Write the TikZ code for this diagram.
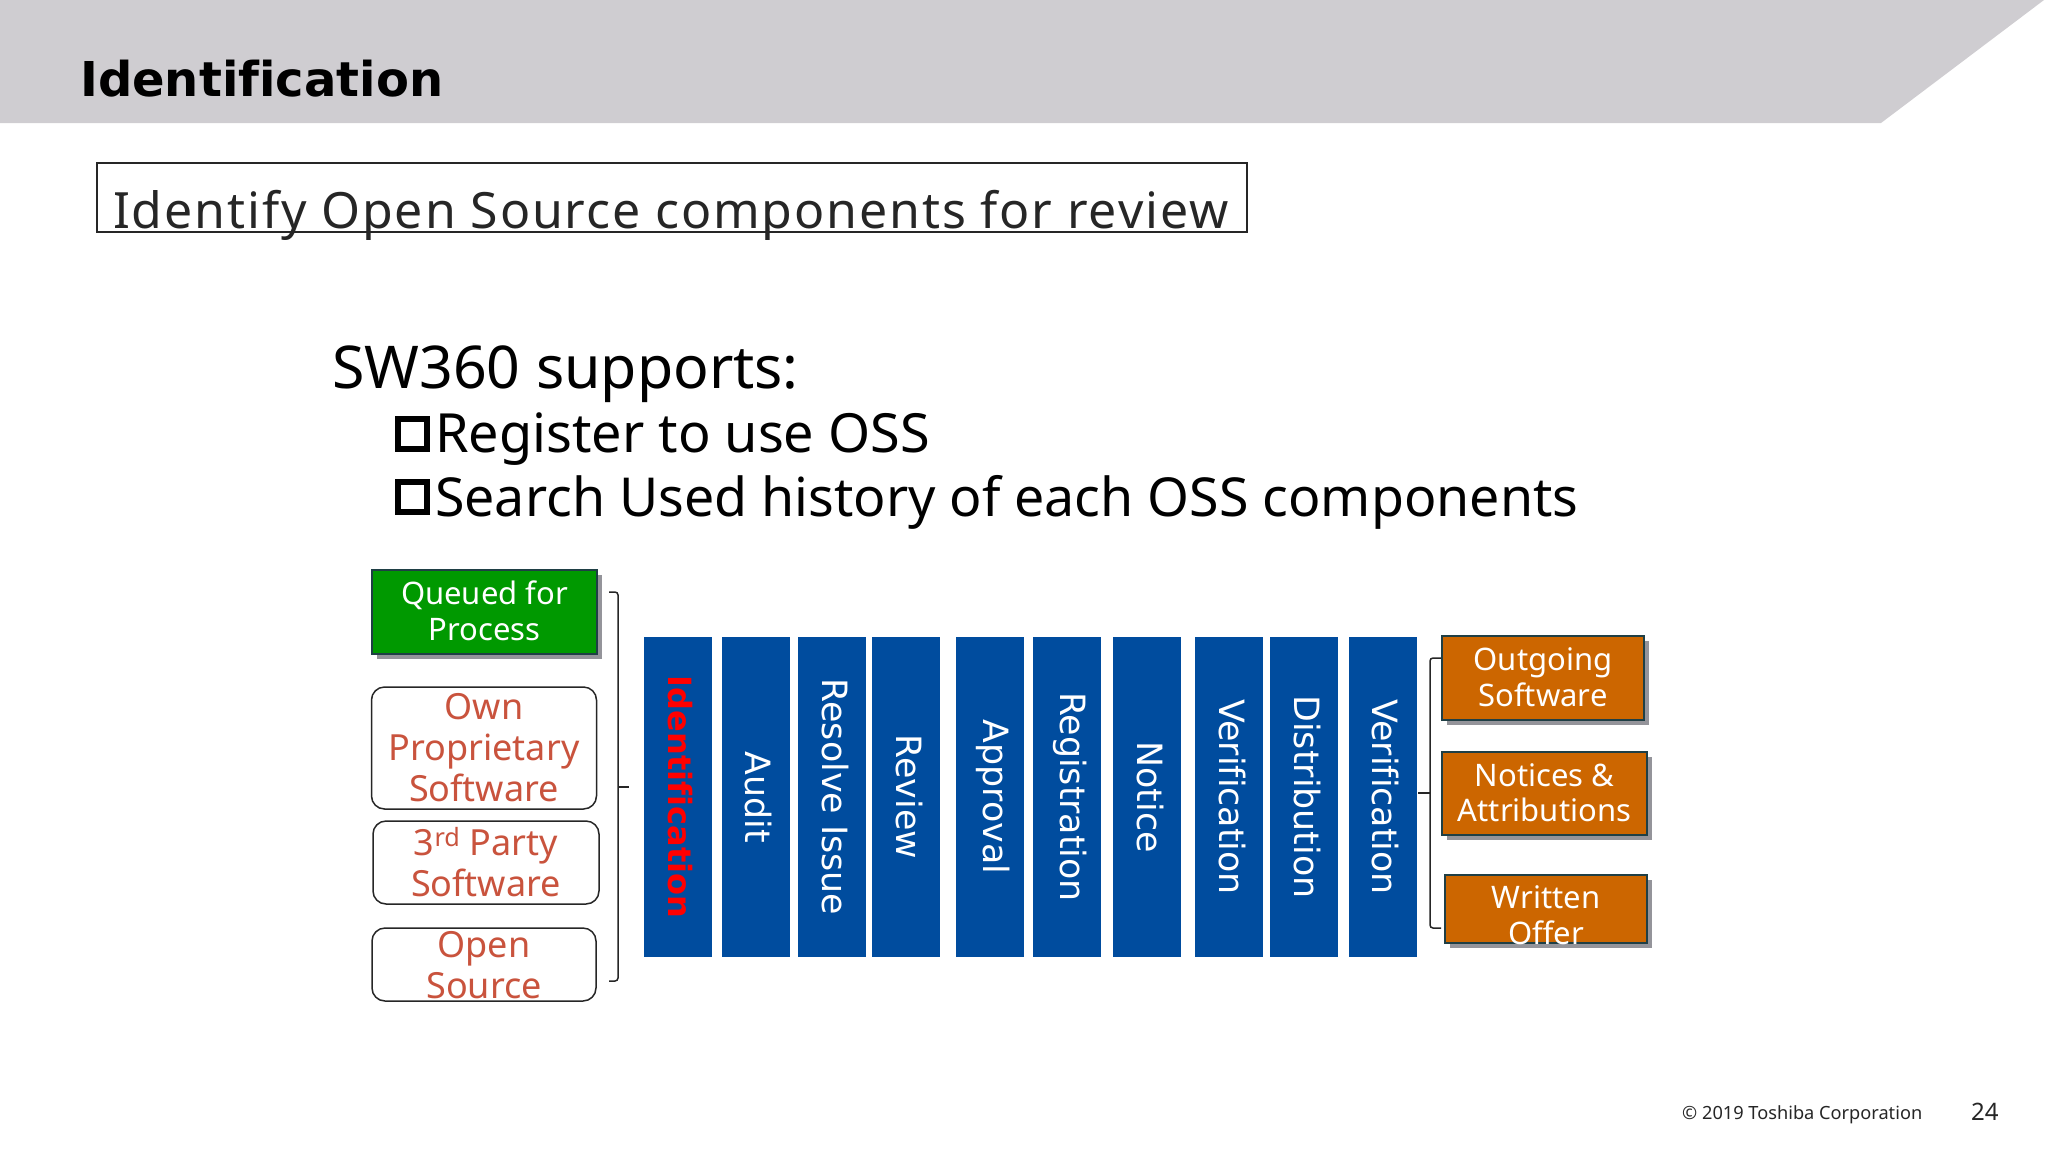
\documentclass[tikz,border=0pt]{standalone}
\usepackage{fontspec}
\setmainfont{Noto Sans}
\newfontfamily\widefont[Ligatures=NoCommon]{DejaVu Sans}
\usetikzlibrary{shadows}
\definecolor{bandgray}{HTML}{CFCDD1}
\definecolor{barblue}{HTML}{004C9E}
\definecolor{boxgreen}{HTML}{009900}
\definecolor{boxorange}{HTML}{CC6600}
\definecolor{softred}{HTML}{C9533D}
\definecolor{shadegray}{HTML}{94949A}
\definecolor{edgeteal}{HTML}{1F3F45}
\tikzset{
    barbox/.style={fill=barblue, minimum width=68pt, minimum height=320pt, inner sep=0pt},
    barlabel/.style={rotate=-90, text=white, font=\widefont\fontsize{34.8}{38}\selectfont, inner sep=0pt, yshift=3pt},
    softbox/.style={draw=black!85, line width=1.5pt, rounded corners=13pt, fill=white, inner sep=0pt},
    softlabel/.style={text=softred, align=center, font=\fontsize{36}{41}\selectfont, inner sep=0pt},
    solidbox/.style={draw=edgeteal, line width=1.5pt, inner sep=0pt,
        drop shadow={shadow xshift=5pt, shadow yshift=-5pt, fill=shadegray, opacity=1}},
    solidlabel/.style={text=white, align=center, font=\fontsize{31}{35.5}\selectfont, inner sep=0pt},
    checkbox/.style={draw=black, line width=6pt, minimum width=29pt, minimum height=30pt, inner sep=0pt},
    brace/.style={draw=black!85, line width=1.5pt, rounded corners=3pt}
}
\begin{document}
\begin{tikzpicture}[x=1pt, y=-1pt]
    \useasboundingbox (0,0) rectangle (2048,1152);

    % Header
    \fill[bandgray] (0,0) -- (2044,0) -- (1881,123) -- (0,123) -- cycle;
    \node[anchor=base west, inner sep=0pt, font=\widefont\fontsize{48}{60}\selectfont\bfseries] (title) at (80,96) {Identification};
    \node[draw=black!85, line width=1.5pt, minimum width=1150pt, minimum height=69pt, inner sep=0pt] (goal) at (672,197.5) {};
    \node[anchor=base west, inner sep=0pt, text=black!85, font=\fontsize{50}{60}\selectfont\addfontfeature{LetterSpace=3.7}] (goaltext) at (113,228) {Identify Open Source components for review};

    % Supports list
    \node[anchor=base west, inner sep=0pt, font=\fontsize{59}{66}\selectfont] (supports) at (332,388) {SW360 supports:};
    \node[checkbox] (checka) at (412.5,433.5) {};
    \node[anchor=base west, inner sep=0pt, font=\fontsize{54}{60}\selectfont] (itema) at (435,452) {Register to use OSS};
    \node[checkbox] (checkb) at (412.5,497) {};
    \node[anchor=base west, inner sep=0pt, font=\fontsize{53.7}{60}\selectfont] (itemb) at (435,516) {Search Used history of each OSS components};

    % Inputs on the left
    \node[solidbox, fill=boxgreen, minimum width=225pt, minimum height=84pt] (queued) at (484.5,612) {};
    \node[solidlabel] (queuedlbl) at (484.5,611) {Queued for\\Process};
    \node[softbox, minimum width=225pt, minimum height=122pt] (own) at (484,748) {};
    \node[softlabel] (ownlbl) at (own) {Own\\Proprietary\\Software};
    \node[softbox, minimum width=226pt, minimum height=83pt] (third) at (486,862.5) {};
    \node[softlabel] (thirdlbl) at (third) {3\textsuperscript{rd} Party\\Software};
    \node[softbox, minimum width=224pt, minimum height=73pt] (open) at (484,964.5) {};
    \node[softlabel] (openlbl) at (484,965) {Open\\Source};

    % Left brace
    \coordinate (ltop) at (609,592);
    \coordinate (lbot) at (609,981);
    \coordinate (ltip) at (629,787);
    \coordinate (lmid) at (618,787);
    \draw[brace] (ltop) -| (lmid) |- (lbot);
    \draw[brace] (lmid) -- (ltip);

    % Process bars
    \node[barbox] (bara) at (677.5,797) {};
    \node[barlabel, text=red, font=\widefont\fontsize{32}{36}\selectfont\bfseries] at (bara) {Identification};
    \node[barbox] (barb) at (755.5,797) {};
    \node[barlabel] at (barb) {Audit};
    \node[barbox] (barc) at (832,797) {};
    \node[barlabel] at (barc) {Resolve Issue};
    \node[barbox] (bard) at (906,797) {};
    \node[barlabel] at (bard) {Review};
    \node[barbox] (bare) at (990,797) {};
    \node[barlabel] at (bare) {Approval};
    \node[barbox] (barf) at (1067,797) {};
    \node[barlabel] at (barf) {Registration};
    \node[barbox] (barg) at (1147,797) {};
    \node[barlabel] at (barg) {Notice};
    \node[barbox] (barh) at (1229,797) {};
    \node[barlabel] at (barh) {Verification};
    \node[barbox] (bari) at (1304,797) {};
    \node[barlabel] at (bari) {Distribution};
    \node[barbox] (barj) at (1382.5,797) {};
    \node[barlabel] at (barj) {Verification};

    % Right brace
    \coordinate (rtop) at (1441,658);
    \coordinate (rbot) at (1441,928);
    \coordinate (rtip) at (1418,793);
    \coordinate (rmid) at (1430,793);
    \draw[brace] (rtop) -| (rmid) |- (rbot);
    \draw[brace] (rtip) -- (rmid);

    % Outputs on the right
    \node[solidbox, fill=boxorange, minimum width=202pt, minimum height=84pt] (outgoing) at (1543,678) {};
    \node[solidlabel] (outgoinglbl) at (1543,677) {Outgoing\\Software};
    \node[solidbox, fill=boxorange, minimum width=205pt, minimum height=83pt] (notices) at (1544.5,793.5) {};
    \node[solidlabel] (noticeslbl) at (1544.5,792.5) {Notices \&\\Attributions};
    \node[solidbox, fill=boxorange, minimum width=202pt, minimum height=68pt] (written) at (1546,909) {};
    \node[solidlabel] (writtenlbl) at (1546,915) {Written\\Offer};

    % Footer
    \node[anchor=base west, inner sep=0pt, text=black!85, font=\fontsize{18.2}{22}\selectfont] (copyright) at (1682,1119) {© 2019 Toshiba Corporation};
    \node[anchor=base west, inner sep=0pt, text=black!85, font=\fontsize{24}{28}\selectfont] (pageno) at (1971,1120) {24};
\end{tikzpicture}
\end{document}
